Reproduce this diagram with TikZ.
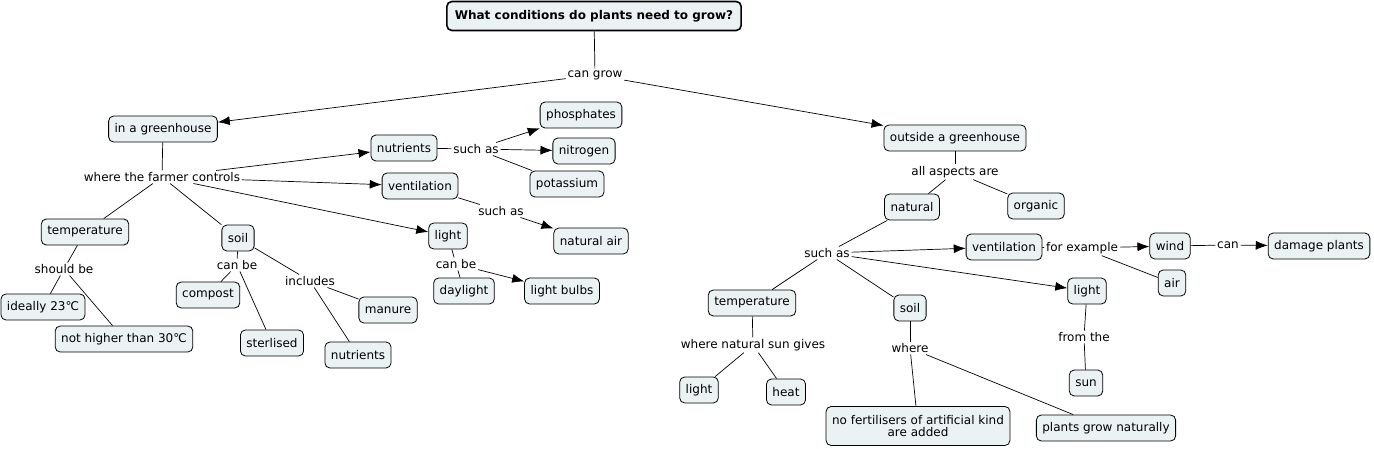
\documentclass[tikz,border=0pt]{standalone}
\usepackage{fontspec}
\setmainfont{DejaVu Sans}
\usepackage{tikz}
\usetikzlibrary{positioning,arrows,arrows.meta}
\definecolor{cfill}{HTML}{EBF2F4}

\begin{document}
\begin{tikzpicture}[x=1pt, y=-1pt, font=\fontsize{12}{14}\selectfont, line width=0.7pt]
\tikzstyle{cpt}=[draw, rounded corners=5pt, fill=cfill, line width=0.8pt,
                 inner xsep=6pt, inner ysep=0pt, minimum height=26pt]
\tikzstyle{ttl}=[cpt, line width=1.6pt, font=\fontsize{12}{14}\selectfont\bfseries,
                 inner xsep=8pt, minimum height=29pt]
\tikzstyle{lnk}=[inner sep=1.5pt, fill=white]
\tikzstyle{arr}=[-{Latex[length=12pt,width=9pt]}]
\useasboundingbox (0,0) rectangle (1374,449);
% main question
\node[ttl] (title) at (594,16) {What conditions do plants need to grow?};
\node[lnk] (cangrow) at (595,75) {can grow};
% inside a greenhouse
\node[cpt] (ingh) at (163,129) {in a greenhouse};
\node[lnk] (farmer) at (162,177) {where the farmer controls};
\node[cpt] (nutr) at (404,148) {nutrients};
\node[lnk] (suchA) at (476,149) {such as};
\node[cpt] (phos) at (581,115) {phosphates};
\node[cpt] (nitro) at (584,151) {nitrogen};
\node[cpt] (potas) at (567,184) {potassium};
\node[cpt] (vent) at (420,186) {ventilation};
\node[lnk] (suchB) at (501,211) {such as};
\node[cpt] (natair) at (591,241) {natural air};
\node[cpt] (lightg) at (448,236) {light};
\node[lnk] (canbeL) at (456,264) {can be};
\node[cpt] (daylt) at (464,291) {daylight};
\node[cpt] (bulbs) at (562,291) {light bulbs};
\node[cpt] (temp) at (85,232) {temperature};
\node[lnk] (should) at (64,269) {should be};
\node[cpt] (ideal) at (43,307) {ideally 23℃};
\node[cpt] (nothigh) at (124,339) {not higher than 30℃};
\node[cpt] (soil) at (238,238) {soil};
\node[lnk] (canbeS) at (237,265) {can be};
\node[cpt] (compost) at (208,295) {compost};
\node[cpt] (sterl) at (272,343) {sterlised};
\node[lnk] (incl) at (310,281) {includes};
\node[cpt] (manure) at (388,310) {manure};
\node[cpt] (nutrS) at (358,355) {nutrients};
% outside a greenhouse
\node[cpt] (outgh) at (955,138) {outside a greenhouse};
\node[lnk] (allasp) at (955,172) {all aspects are};
\node[cpt] (natural) at (912,207) {natural};
\node[cpt] (organic) at (1036,206) {organic};
\node[lnk] (suchC) at (827,253) {such as};
\node[cpt] (ventR) at (1004,247) {ventilation};
\node[lnk] (forex) at (1082,248) {for example};
\node[cpt] (wind) at (1170,246) {wind};
\node[lnk] (can) at (1228,245) {can};
\node[cpt] (damage) at (1319,246) {damage plants};
\node[cpt] (air) at (1172,283) {air};
\node[cpt] (lightR) at (1087,291) {light};
\node[lnk] (from) at (1084,337) {from the};
\node[cpt] (sun) at (1086,383) {sun};
\node[cpt] (tempR) at (752,303) {temperature};
\node[lnk] (wsun) at (753,345) {where natural sun gives};
\node[cpt] (lightT) at (699,390) {light};
\node[cpt] (heat) at (786,392) {heat};
\node[cpt] (soilR) at (910,308) {soil};
\node[lnk] (where) at (910,348) {where};
\node[cpt, align=center, minimum height=39pt] (nofert) at (918,426) {no fertilisers of artificial kind\\[-2pt]are added};
\node[cpt] (grow) at (1106,428) {plants grow naturally};
% plain lines
\foreach \i/\j in {title/cangrow, ingh/farmer, farmer/temp, farmer/soil, nutr/suchA,
  suchA/potas, vent/suchB, lightg/canbeL, canbeL/daylt, temp/should, should/ideal,
  should/nothigh, soil/canbeS, canbeS/compost, canbeS/sterl, soil/incl, incl/manure,
  incl/nutrS, outgh/allasp, allasp/natural, allasp/organic, natural/suchC, suchC/tempR,
  suchC/soilR, ventR/forex, forex/air, wind/can, lightR/from, from/sun, tempR/wsun,
  wsun/lightT, wsun/heat, soilR/where, where/nofert, where/grow}{\draw (\i) -- (\j);}
% arrows
\foreach \i/\j in {cangrow/ingh, cangrow/outgh, farmer/nutr, farmer/vent, farmer/lightg,
  suchA/phos, suchA/nitro, suchB/natair, canbeL/bulbs, suchC/ventR, suchC/lightR,
  forex/wind, can/damage}{\draw[arr] (\i) -- (\j);}
\end{tikzpicture}
\end{document}
